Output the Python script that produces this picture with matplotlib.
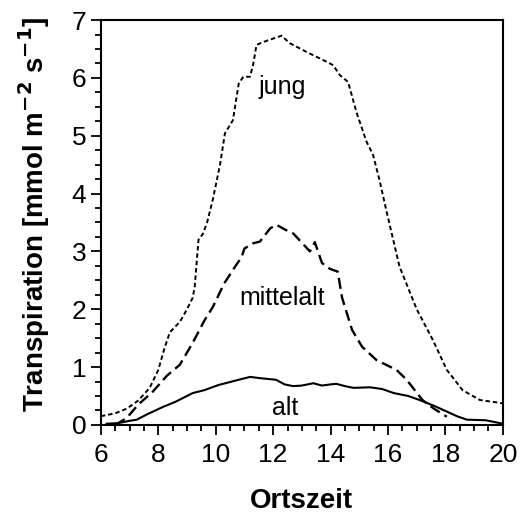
import matplotlib
matplotlib.use('Agg')
import matplotlib.pyplot as plt
from matplotlib.ticker import MultipleLocator

plt.rcParams['font.family'] = ['Liberation Sans', 'DejaVu Sans']

# jung (young leaves)
jung_x = [6.0, 6.5, 6.9, 7.3, 7.7, 8.0, 8.2, 8.4, 8.75, 9.0, 9.2, 9.27, 9.4, 9.55,
          9.7, 9.9, 10.15, 10.32, 10.6, 10.8, 10.96, 11.19, 11.3, 11.42, 11.65, 12.0,
          12.29, 12.58, 13.16, 13.86, 14.09, 14.32, 14.61, 14.9, 15.25, 15.48, 15.72,
          15.95, 16.4, 17.0, 17.56, 18.05, 18.6, 19.2, 19.9, 20.0]
jung_y = [0.15, 0.2, 0.28, 0.42, 0.64, 0.95, 1.3, 1.6, 1.78, 2.0, 2.2, 2.4, 3.2, 3.3,
          3.5, 3.9, 4.5, 5.04, 5.27, 5.9, 6.02, 6.02, 6.22, 6.57, 6.62, 6.68,
          6.73, 6.6, 6.45, 6.28, 6.22, 6.05, 5.93, 5.41, 4.9, 4.67, 4.2,
          3.69, 2.74, 2.0, 1.47, 0.95, 0.6, 0.43, 0.38, 0.37]

# mittelalt
mittel_x = [6.5, 6.9, 7.3, 7.8, 8.3, 8.75, 9.2, 9.6, 9.9, 10.3, 10.72, 10.9, 11.0,
            11.3, 11.54, 11.9, 12.12, 12.4, 12.7, 13.28, 13.45, 13.7, 13.97, 14.25,
            14.4, 14.75, 15.1, 15.6, 16.3, 16.65, 17.2, 17.6, 18.05]
mittel_y = [0.0, 0.12, 0.35, 0.57, 0.85, 1.04, 1.42, 1.8, 2.04, 2.45, 2.77, 2.9, 3.05,
            3.14, 3.17, 3.4, 3.46, 3.38, 3.31, 3.0, 3.16, 2.8, 2.7, 2.65,
            2.2, 1.64, 1.35, 1.12, 0.95, 0.78, 0.43, 0.28, 0.14]

# alt
alt_x = [6.2, 6.6, 7.0, 7.25, 7.6, 8.16, 8.6, 9.2, 9.6, 10.1, 10.8, 11.2, 11.5, 12.1,
         12.4, 12.7, 13.0, 13.4, 13.7, 14.0, 14.2, 14.5, 14.8, 15.37, 15.8, 16.2,
         16.7, 17.1, 17.6, 18.05, 18.4, 18.75, 19.4, 20.0]
alt_y = [0.02, 0.03, 0.07, 0.09, 0.18, 0.31, 0.4, 0.55, 0.6, 0.69, 0.78, 0.83, 0.81, 0.78,
         0.7, 0.67, 0.68, 0.72, 0.68, 0.7, 0.71, 0.67, 0.64, 0.65, 0.62, 0.55,
         0.5, 0.43, 0.33, 0.23, 0.15, 0.09, 0.08, 0.02]

fig = plt.figure(figsize=(5.2, 5.15), dpi=100)
ax = fig.add_axes([0.194, 0.175, 0.773, 0.786])

ax.plot(jung_x, jung_y, color='black', lw=1.4, dashes=(2.3, 1.5))
ax.plot(mittel_x, mittel_y, color='black', lw=1.7, dashes=(4.7, 2.3))
ax.plot(alt_x, alt_y, color='black', lw=1.5)

ax.text(12.33, 5.84, 'jung', fontsize=18, ha='center', va='center')
ax.text(12.3, 2.2, 'mittelalt', fontsize=18, ha='center', va='center')
ax.text(12.4, 0.3, 'alt', fontsize=18, ha='center', va='center')

ax.set_xlim(6, 20)
ax.set_ylim(0, 7)
ax.xaxis.set_major_locator(MultipleLocator(2))
ax.xaxis.set_minor_locator(MultipleLocator(0.5))
ax.yaxis.set_major_locator(MultipleLocator(1))
ax.yaxis.set_minor_locator(MultipleLocator(0.25))
ax.tick_params(which='both', direction='out', labelsize=19, width=1.3)
ax.tick_params(which='major', length=7)
ax.tick_params(which='minor', length=4.5)
ax.tick_params(axis='x', which='major', pad=6)
for s in ax.spines.values():
    s.set_linewidth(1.5)

ax.set_xlabel('Ortszeit', fontsize=20, fontweight='bold', va='top')
ax.xaxis.set_label_coords(0.5, -0.156)
ax.set_ylabel(r'Transpiration [mmol m$^{\mathbf{-2}}$ s$^{\mathbf{-1}}$]',
              fontsize=20, fontweight='bold')
ax.yaxis.set_label_coords(-0.122, 0.52)

fig.savefig('out.png', dpi=100)
